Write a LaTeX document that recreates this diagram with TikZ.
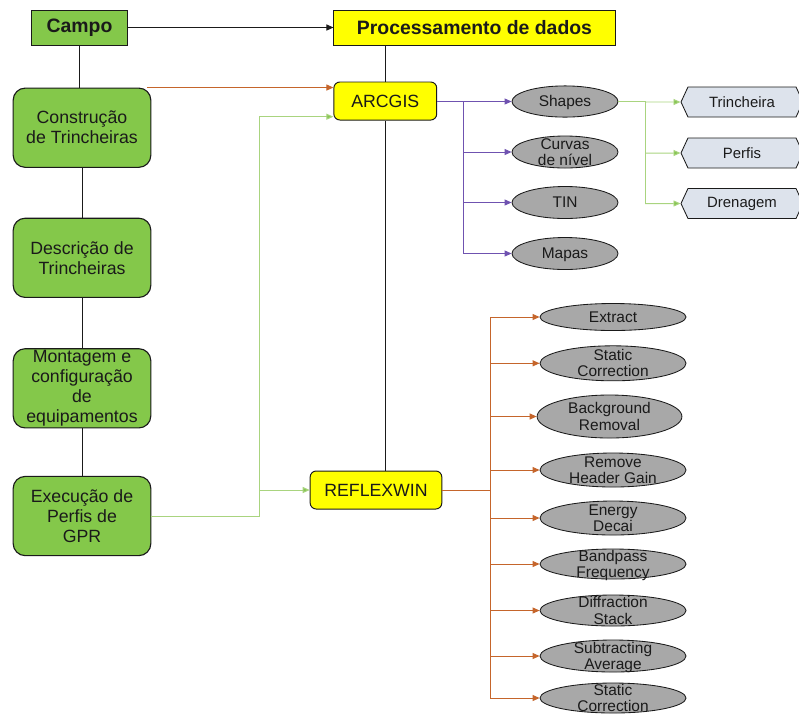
\documentclass[tikz,border=0pt]{standalone}
\usepackage{fontspec}
\setmainfont{Liberation Sans}
\usetikzlibrary{arrows.meta,shapes.geometric,shapes.symbols}
\definecolor{ink}{HTML}{1A1A1A}
\definecolor{field}{HTML}{84C84A}
\definecolor{lemon}{HTML}{FFFF00}
\definecolor{stone}{HTML}{A8A8A8}
\definecolor{mist}{HTML}{DDE3EC}
\definecolor{rust}{HTML}{C5652B}
\definecolor{violet}{HTML}{6F52B0}
\definecolor{lime}{HTML}{A9D47F}
\definecolor{limetip}{HTML}{86C553}
\newcommand{\ovaltxt}[1]{\smash{\raisebox{-4.3pt}{\begin{tabular}{@{}c@{}}#1\end{tabular}}}}

\begin{document}
\begin{tikzpicture}[x=0.025cm,y=-0.025cm,text=ink,>={Triangle[length=5pt,width=4.3pt]},
  headbox/.style={draw=ink,line width=0.7pt,minimum height=0.875cm,inner sep=0pt,
    font=\fontsize{13.8}{16}\selectfont\bfseries},
  fieldbox/.style={draw=ink,fill=field,rounded corners=0.3cm,line width=0.8pt,minimum width=3.44cm,
    minimum height=1.98cm,inner sep=0pt,align=center,font=\fontsize{12.6}{14.2}\selectfont},
  toolbox/.style={draw=ink,fill=lemon,rounded corners=0.15cm,line width=0.7pt,minimum height=0.95cm,
    font=\fontsize{12.6}{14}\selectfont},
  stepoval/.style={ellipse,draw=ink,fill=stone,line width=0.6pt,inner sep=0pt,
    font=\fontsize{11}{11.5}\selectfont},
  layerbox/.style={signal,signal to=west and east,signal pointer angle=130,draw=ink,fill=mist,
    line width=0.6pt,minimum width=3.05cm,minimum height=0.75cm,inner sep=0pt,
    font=\fontsize{10.6}{12}\selectfont},
  blackline/.style={ink,line width=0.7pt},
  rustline/.style={rust,line width=0.7pt},
  violetline/.style={violet,line width=0.7pt},
  limeline/.style={lime,line width=0.7pt}]
  \useasboundingbox (0,0) rectangle (799,713);
  \node[headbox,fill=field,minimum width=2.4cm] (campo) at (79.5,27.5) {Campo};
  \node[headbox,fill=lemon,minimum width=7.025cm] (proc) at (474.5,27.5) {Processamento de dados};
  \node[fieldbox] (constr) at (82,127.7) {Construção\\de Trincheiras};
  \node[fieldbox] (descr) at (82,257.8) {Descrição de\\Trincheiras};
  \node[fieldbox] (mont) at (82,388.3) {Montagem e\\configuração\\de\\equipamentos};
  \node[fieldbox] (exec) at (82,516) {Execução de\\Perfis de\\GPR};
  \node[toolbox,minimum width=2.57cm] (arcgis) at (385.3,101) {ARCGIS};
  \node[toolbox,minimum width=3.29cm] (reflex) at (376,490) {REFLEXWIN};
  \node[stepoval,minimum width=2.65cm,minimum height=0.78cm] (shapes) at (565,101.5) {\ovaltxt{Shapes}};
  \node[stepoval,minimum width=2.65cm,minimum height=0.8cm] (curvas) at (565,152) {\ovaltxt{Curvas\\de nível}};
  \node[stepoval,minimum width=2.65cm,minimum height=0.8cm] (tin) at (565,202.5) {\ovaltxt{TIN}};
  \node[stepoval,minimum width=2.65cm,minimum height=0.8cm] (mapas) at (565,253.5) {\ovaltxt{Mapas}};
  \node[layerbox] (trinch) at (742,102) {Trincheira};
  \node[layerbox] (perfis) at (742,153) {Perfis};
  \node[layerbox] (dren) at (742,203.5) {Drenagem};
  \node[stepoval,minimum width=3.65cm,minimum height=0.675cm] (extract) at (613,317) {\ovaltxt{Extract}};
  \node[stepoval,minimum width=3.65cm,minimum height=0.875cm] (static) at (613,363.3) {\ovaltxt{Static\\Correction}};
  \node[stepoval,minimum width=3.62cm,minimum height=1.075cm] (backg) at (609.5,416.5) {\ovaltxt{Background\\Removal}};
  \node[stepoval,minimum width=3.65cm,minimum height=0.85cm] (remove) at (613,470) {\ovaltxt{Remove\\Header Gain}};
  \node[stepoval,minimum width=3.65cm,minimum height=0.85cm] (energy) at (613,518) {\ovaltxt{Energy\\Decai}};
  \node[stepoval,minimum width=3.65cm,minimum height=0.75cm] (band) at (613,564) {\ovaltxt{Bandpass\\Frequency}};
  \node[stepoval,minimum width=3.65cm,minimum height=0.775cm] (diffr) at (613,610.5) {\ovaltxt{Diffraction\\Stack}};
  \node[stepoval,minimum width=3.65cm,minimum height=0.8cm] (subtr) at (613,656) {\ovaltxt{Subtracting\\Average}};
  \node[stepoval,minimum width=3.65cm,minimum height=0.75cm] (static2) at (613,698) {\ovaltxt{Static\\Correction}};
  \coordinate (gbus) at (259,116.7);
  \coordinate (abus) at (463,0);
  \coordinate (sbus) at (645,0);
  \coordinate (rbus) at (490,0);
  \draw[blackline,->] (campo) -- (proc);
  \draw[blackline] (proc.south -| arcgis) -- (arcgis);
  \draw[blackline] (arcgis) -- (arcgis |- reflex.north);
  \draw[blackline] (campo) -- (campo |- constr.north);
  \draw[blackline] (constr) -- (descr);
  \draw[blackline] (descr) -- (mont);
  \draw[blackline] (mont) -- (exec);
  \draw[rustline,->] ([xshift=-3pt]constr.north east) -- (constr.north east -| arcgis.west);
  \draw[limeline,-{Triangle[length=5pt,width=4.3pt,fill=limetip]}] (exec) -| (gbus) -- (gbus -| arcgis.west);
  \draw[limeline,-{Triangle[length=5pt,width=4.3pt,fill=limetip]}] (gbus |- reflex) -- (reflex);
  \draw[violetline] (arcgis.east) -- (abus |- arcgis.east) -- (abus |- mapas);
  \draw[violetline,->] (abus |- shapes) -- (shapes);
  \draw[violetline,->] (abus |- curvas) -- (curvas);
  \draw[violetline,->] (abus |- tin) -- (tin);
  \draw[violetline,->] (abus |- mapas) -- (mapas);
  \draw[limeline] (shapes) -- (sbus |- shapes) -- (sbus |- dren);
  \draw[limeline,-{Triangle[length=5pt,width=4.3pt,fill=limetip]}] (sbus |- trinch) -- (trinch);
  \draw[limeline,-{Triangle[length=5pt,width=4.3pt,fill=limetip]}] (sbus |- perfis) -- (perfis);
  \draw[limeline,-{Triangle[length=5pt,width=4.3pt,fill=limetip]}] (sbus |- dren) -- (dren);
  \draw[rustline] (reflex) -- (rbus |- reflex);
  \draw[rustline] (rbus |- extract) -- (rbus |- static2);
  \draw[rustline,->] (rbus |- extract) -- (extract);
  \draw[rustline,->] (rbus |- static) -- (static);
  \draw[rustline,->] (rbus |- backg) -- (backg);
  \draw[rustline,->] (rbus |- remove) -- (remove);
  \draw[rustline,->] (rbus |- energy) -- (energy);
  \draw[rustline,->] (rbus |- band) -- (band);
  \draw[rustline,->] (rbus |- diffr) -- (diffr);
  \draw[rustline,->] (rbus |- subtr) -- (subtr);
  \draw[rustline,->] (rbus |- static2) -- (static2);
\end{tikzpicture}
\end{document}
